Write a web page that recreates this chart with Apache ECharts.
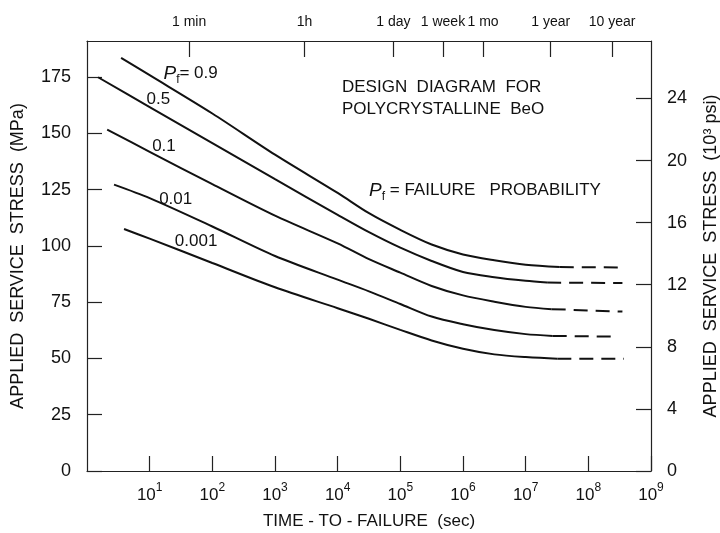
<!DOCTYPE html>
<html><head><meta charset="utf-8">
<script src="https://cdn.jsdelivr.net/npm/echarts@6/dist/echarts.min.js"></script>
<style>html,body{margin:0;padding:0;background:#fff}#c{width:720px;height:533px}</style>
</head><body><div id="c"></div>
<script>
// ---- data ----
const curveNames = ['0.9', '0.5', '0.1', '0.01', '0.001'];

// time-to-failure (s) and applied stress (MPa) along each solid curve
const pf09Time   = [3.5, 10, 1e2, 1e3, 1e4, 3.16e4, 1e5, 3.16e5, 1e6, 3.16e6, 1e7, 3.5e7];
const pf09Stress = [183.5, 175.8, 158.8, 140.5, 123.5, 114.5, 107.1, 100.6, 96.2, 93.6, 91.6, 90.6];
const pf05Time   = [1.5, 10, 1e2, 1e3, 1e4, 3.16e4, 1e5, 3.16e5, 1e6, 3.16e6, 1e7, 2.2e7];
const pf05Stress = [174.9, 161.6, 145.6, 129.6, 113.8, 106.1, 99.2, 93.3, 88.4, 86.1, 84.5, 83.7];
const pf01Time   = [2.1, 10, 1e2, 1e3, 1e4, 3.16e4, 1e5, 3.16e5, 1e6, 3.16e6, 1e7, 2.6e7];
const pf01Stress = [151.6, 141.8, 127.4, 113.4, 101.1, 94.1, 88.1, 82.2, 78.0, 75.2, 72.9, 71.9];
const pf001Time   = [2.7, 10, 1e2, 1e3, 1e4, 3.16e4, 1e5, 3.16e5, 1e6, 3.16e6, 1e7, 2.7e7];
const pf001Stress = [127.2, 121.2, 108.6, 95.5, 85.0, 79.8, 74.2, 68.6, 65.2, 62.6, 60.8, 60.0];
const pf0001Time   = [3.9, 10, 1e2, 1e3, 1e4, 3.16e4, 1e5, 3.16e5, 1e6, 3.16e6, 1e7, 3.2e7];
const pf0001Stress = [107.5, 103.2, 92.4, 81.6, 72.3, 67.6, 62.7, 58.0, 54.3, 51.8, 50.6, 49.9];

// dashed extrapolations: [start, end] time and stress
const dashTime = [[3.5e7, 3.7e8], [2.2e7, 3.5e8], [2.6e7, 3.5e8], [2.7e7, 2.9e8], [3.2e7, 3.7e8]];
const dashStress = [[90.6, 90.4], [83.7, 83.5], [71.9, 70.8], [60.0, 59.7], [49.9, 49.9]];

// axis ticks
const mpaTicks = [0, 25, 50, 75, 100, 125, 150, 175];
const ksiTicks = [0, 4, 8, 12, 16, 20, 24];
const decadeExponents = ['1', '2', '3', '4', '5', '6', '7', '8', '9'];
const topTickLog = [1.63, 3.47, 4.89, 5.68, 6.32, 7.40, 8.38];
const topTickNames = ['1 min', '1h', '1 day', '1 week', '1 mo', '1 year', '10 year'];

const MPA_PER_KSI = 6.895;
const yMaxMPa = 191;

// ---- chart ----
const FONT = 'Liberation Sans';
const INK = '#111';
const times = [pf09Time, pf05Time, pf01Time, pf001Time, pf0001Time];
const stresses = [pf09Stress, pf05Stress, pf01Stress, pf001Stress, pf0001Stress];
const labelAnchors = [[45, 176.5], [13.8, 165], [16.9, 144], [26, 120.5], [55, 102]];

const series = [];
curveNames.forEach((nm, k) => {
  series.push({
    name: 'Pf=' + nm, type: 'line', xAxisIndex: 0, yAxisIndex: 0,
    data: times[k].map((t, i) => [t, stresses[k][i]]),
    symbol: 'none', smooth: 0.3,
    lineStyle: { color: INK, width: 2 },
    markPoint: {
      symbol: 'circle', symbolSize: 0,
      label: {
        show: true, position: 'inside', color: INK, fontFamily: FONT, fontSize: 17,
        formatter: k === 0 ? '{p|P}{s|f}{n|= ' + nm + '}' : nm,
        rich: {
          p: { fontStyle: 'italic', fontSize: 19, lineHeight: 24, fontFamily: FONT, color: INK },
          s: { fontSize: 12, lineHeight: 12, verticalAlign: 'bottom', fontFamily: FONT, color: INK },
          n: { fontSize: 17, lineHeight: 24, fontFamily: FONT, color: INK }
        }
      },
      data: [{ coord: labelAnchors[k] }]
    }
  });
  series.push({
    name: 'Pf=' + nm + ' extrapolated', type: 'line', xAxisIndex: 0, yAxisIndex: 0,
    data: dashTime[k].map((t, i) => [t, dashStress[k][i]]),
    symbol: 'none',
    lineStyle: { color: INK, width: 2, type: [14, 8] }
  });
});

const axisLine = { show: true, onZero: false, lineStyle: { color: '#222', width: 1.2 } };
const tick = (len) => ({ show: true, inside: true, length: len, lineStyle: { color: '#222', width: 1.2 } });

const option = {
  animation: false,
  backgroundColor: '#fff',
  grid: { left: 87, right: 69, top: 41, bottom: 62, containLabel: false, outerBoundsMode: 'none' },
  xAxis: [
    {
      type: 'log', logBase: 10, min: 1, max: 1e9, position: 'bottom',
      axisLine, axisTick: tick(15), minorTick: { show: false }, splitLine: { show: false },
      axisLabel: {
        showMinLabel: false, margin: 11, color: INK, fontFamily: FONT,
        formatter: (v) => {
          const e = Math.round(Math.log10(v));
          return '{b|10}{s|' + (decadeExponents[e - 1] || '') + '}';
        },
        rich: {
          b: { fontSize: 17, lineHeight: 26, fontFamily: FONT, color: INK },
          s: { fontSize: 12, lineHeight: 12, verticalAlign: 'top', fontFamily: FONT, color: INK }
        }
      },
      name: 'TIME - TO - FAILURE  (sec)', nameLocation: 'middle', nameGap: 42,
      nameTextStyle: { fontFamily: FONT, fontSize: 17, color: INK }
    },
    {
      type: 'value', min: 0, max: 9, position: 'top',
      axisLine,
      axisTick: Object.assign(tick(16), { customValues: topTickLog }),
      splitLine: { show: false },
      axisLabel: {
        customValues: topTickLog, margin: 12, color: INK, fontFamily: FONT, fontSize: 14,
        formatter: (v) => { const i = topTickLog.indexOf(v); return i >= 0 ? topTickNames[i] : ''; }
      }
    }
  ],
  yAxis: [
    {
      type: 'value', min: 0, max: yMaxMPa, interval: 25, position: 'left',
      axisLine, axisTick: tick(15), splitLine: { show: false },
      axisLabel: {
        showMaxLabel: false, margin: 16, color: INK, fontFamily: FONT, fontSize: 18,
        formatter: (v) => mpaTicks.indexOf(v) >= 0 ? String(v) : ''
      },
      name: 'APPLIED  SERVICE  STRESS  (MPa)', nameLocation: 'middle', nameGap: 60, nameRotate: 90,
      nameTextStyle: { fontFamily: FONT, fontSize: 18, color: INK }
    },
    {
      type: 'value', min: 0, max: yMaxMPa / MPA_PER_KSI, interval: 4, position: 'right',
      axisLine, axisTick: tick(15), splitLine: { show: false },
      axisLabel: {
        showMaxLabel: false, margin: 16, color: INK, fontFamily: FONT, fontSize: 18,
        formatter: (v) => ksiTicks.indexOf(v) >= 0 ? String(v) : ''
      },
      name: 'APPLIED  SERVICE  STRESS  (10³ psi)', nameLocation: 'middle', nameGap: 51, nameRotate: 90,
      nameTextStyle: { fontFamily: FONT, fontSize: 18, color: INK }
    }
  ],
  graphic: [
    { type: 'text', left: 342, top: 79, style: { text: 'DESIGN  DIAGRAM  FOR', font: '17px "Liberation Sans"', fill: INK } },
    { type: 'text', left: 342, top: 101, style: { text: 'POLYCRYSTALLINE  BeO', font: '17px "Liberation Sans"', fill: INK } },
    { type: 'text', left: 369, top: 181, style: {
        text: '{p|P}{s|f}{n| = FAILURE   PROBABILITY}', fill: INK,
        rich: {
          p: { fontStyle: 'italic', fontSize: 19, lineHeight: 24, fontFamily: FONT, fill: INK },
          s: { fontSize: 12, lineHeight: 12, verticalAlign: 'bottom', fontFamily: FONT, fill: INK },
          n: { fontSize: 17, lineHeight: 24, fontFamily: FONT, fill: INK }
        } } }
  ],
  series
};

const chart = echarts.init(document.getElementById('c'), null, { renderer: 'canvas' });
chart.setOption(option);
</script>
</body></html>
